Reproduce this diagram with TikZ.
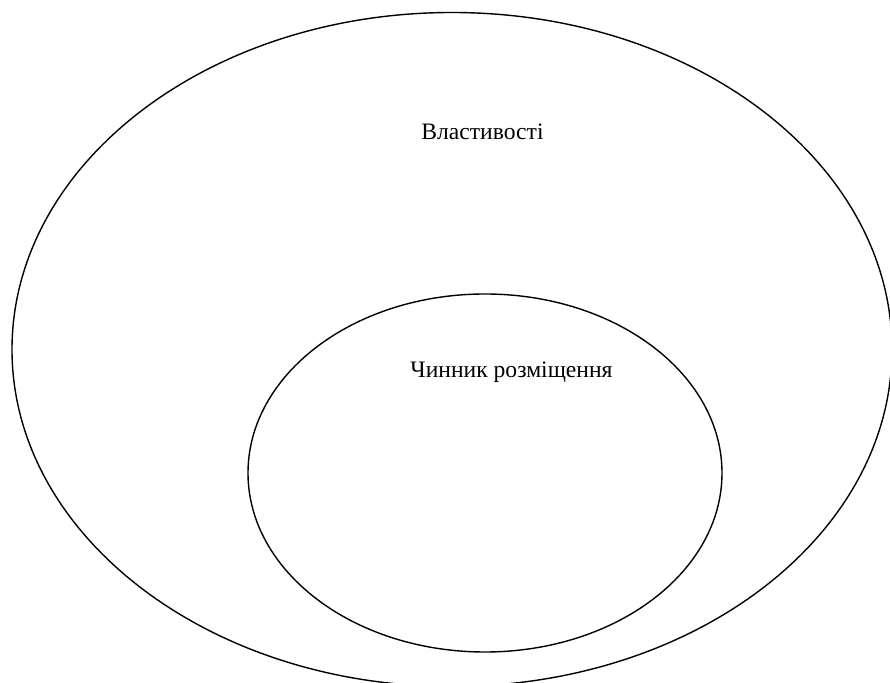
\documentclass[tikz,border=0pt]{standalone}
\usepackage{fontspec}
\setmainfont{Liberation Serif}
\usetikzlibrary{positioning, shapes.geometric}
\tikzstyle{set} = [
    ellipse,
    draw,
    line width = 0.7pt,
    inner sep = 0pt
]
\tikzstyle{setlabel} = [
    font = \fontsize{11.8}{14}\selectfont,
    inner sep = 0pt,
    anchor = base
]
\begin{document}
\begin{tikzpicture}[x = 0.5pt, y = -0.5pt]

    \useasboundingbox (0,0) rectangle (890,683);

    % outer set
    \node [set, minimum width = 440pt, minimum height = 337pt] (props) at (452,349.5) {};
    \node [setlabel] (propsLabel) at (482.5,140) {Властивості};

    % inner set
    \node [set, minimum width = 237pt, minimum height = 179pt] (factor) at (485,473) {};
    \node [setlabel] (factorLabel) at (511.5,378) {Чинник розміщення};

\end{tikzpicture}
\end{document}
